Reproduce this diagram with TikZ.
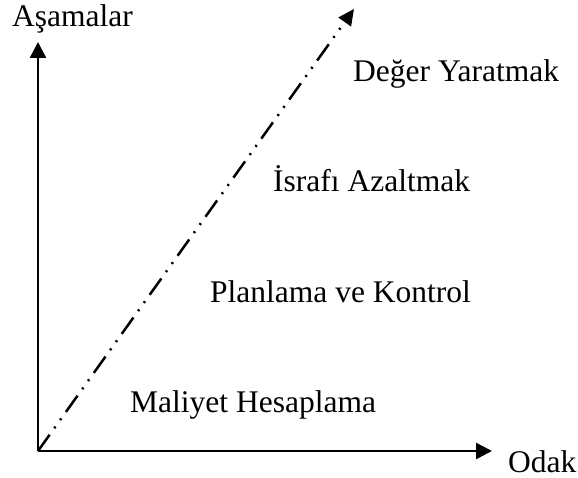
\documentclass[tikz,border=0pt]{standalone}
\usepackage{fontspec}
\setmainfont{Liberation Serif}
\usetikzlibrary{arrows.meta}
\begin{document}
\begin{tikzpicture}[x=1pt,y=-1pt,
  lbl/.style={anchor=base west,inner sep=0pt,font=\fontsize{31.5}{36}\selectfont},
  axis/.style={line width=2.5pt,-{Triangle[length=16pt,width=16pt]}},
  diag/.style={line width=2.5pt,dash pattern=on 20pt off 8pt on 2pt off 8pt on 2pt off 8pt,-{Triangle[length=16pt,width=15pt]}}]
\useasboundingbox (0,0) rectangle (578,478);
\coordinate (O) at (38,451);
\coordinate (Ytop) at (38,42);
\coordinate (Xend) at (492,451);
\coordinate (Dend) at (354,9);
\draw[axis] (O) -- (Ytop);
\draw[axis] (O) -- (Xend);
\draw[diag] (O) -- (Dend);
\node[lbl] (ay) at (12,27) {Aşamalar};
\node[lbl] (ax) at (508,472) {Odak};
\node[lbl] (l4) at (353,82) {Değer Yaratmak};
\node[lbl] (l3) at (273,192) {İsrafı Azaltmak};
\node[lbl] (l2) at (210,302) {Planlama ve Kontrol};
\node[lbl] (l1) at (130,412) {Maliyet Hesaplama};
\end{tikzpicture}
\end{document}
